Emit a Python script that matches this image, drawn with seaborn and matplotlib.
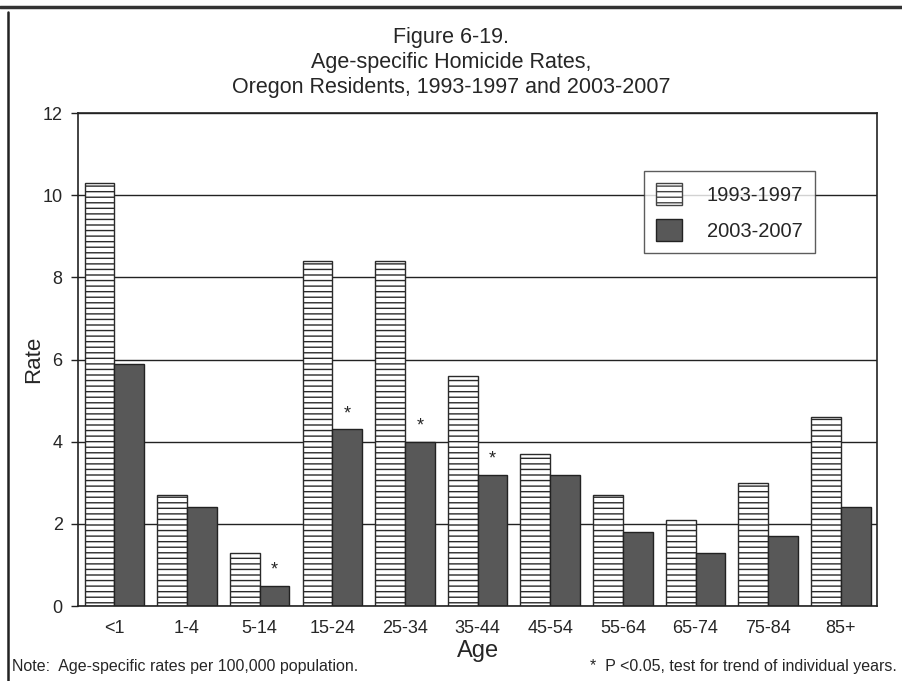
import numpy as np
import pandas as pd
import matplotlib
matplotlib.use("Agg")
import matplotlib.pyplot as plt
import seaborn as sns
from matplotlib.patches import Patch
from matplotlib.lines import Line2D

# --- Data ---
ages = ['<1', '1-4', '5-14', '15-24', '25-34', '35-44', '45-54',
        '55-64', '65-74', '75-84', '85+']
rate_1993_1997 = [10.3, 2.7, 1.3, 8.4, 8.4, 5.6, 3.7, 2.7, 2.1, 3.0, 4.6]
rate_2003_2007 = [5.9, 2.4, 0.5, 4.3, 4.0, 3.2, 3.2, 1.8, 1.3, 1.7, 2.4]
periods = ['1993-1997', '2003-2007']
significant = ['5-14', '15-24', '25-34', '35-44']

df = pd.DataFrame({
    'Age': ages * 2,
    'Rate': rate_1993_1997 + rate_2003_2007,
    'Period': [periods[0]] * len(ages) + [periods[1]] * len(ages),
})

# --- Style ---
sns.set_style('white')
plt.rcParams['font.family'] = ['Liberation Sans', 'DejaVu Sans']
plt.rcParams['hatch.color'] = '#8a8a8a'
plt.rcParams['hatch.linewidth'] = 1.0

fig = plt.figure(figsize=(9.03, 6.81), dpi=100)
ax = fig.add_axes([0.0864, 0.110, 0.885, 0.724])

sns.barplot(data=df, x='Age', y='Rate', hue='Period', order=ages,
            hue_order=periods, palette=['white', '#585858'],
            width=0.82, gap=0, saturation=1, ax=ax, legend=False, zorder=2)

# hatch the first period, dark edges on all bars
for bar in ax.containers[0]:
    bar.set_hatch('---')
    bar.set_edgecolor('#2a2a2a')
    bar.set_linewidth(1.0)
for bar in ax.containers[1]:
    bar.set_edgecolor('#222222')
    bar.set_linewidth(1.0)

# significance asterisks on the 2003-2007 bars
for bar, age, val in zip(ax.containers[1], ages, rate_2003_2007):
    if age in significant:
        ax.text(bar.get_x() + bar.get_width() / 2, val + 0.18, '*',
                ha='center', va='bottom', fontsize=13)

ax.set_ylim(0, 12)
ax.set_xlim(-0.5, len(ages) - 0.5)
ax.set_yticks(range(0, 13, 2))
ax.yaxis.grid(True, color='#222222', linewidth=1.0, zorder=0)
ax.set_axisbelow(True)
for s in ax.spines.values():
    s.set_color('#222222')
    s.set_linewidth(1.2)
ax.tick_params(axis='y', direction='out', length=5, width=1,
               color='#222222', labelsize=13, pad=6, left=True)
ax.tick_params(axis='x', length=0, labelsize=13, pad=10)
ax.set_xlabel('Age', fontsize=17, labelpad=2)
ax.set_ylabel('Rate', fontsize=16, labelpad=4)
ax.yaxis.set_label_coords(-0.043, 0.5)

handles = [Patch(facecolor='white', edgecolor='#444444', hatch='---', label=periods[0]),
           Patch(facecolor='#585858', edgecolor='#222222', label=periods[1])]
leg = ax.legend(handles=handles, loc='upper right', bbox_to_anchor=(0.922, 0.882),
                fontsize=14.5, frameon=True, fancybox=False, edgecolor='#333333',
                handlelength=1.3, handleheight=1.3, labelspacing=0.7,
                borderpad=0.6, handletextpad=1.2, borderaxespad=0)
leg.get_frame().set_linewidth(1.0)

# title
fig.text(0.5, 0.945, 'Figure 6-19.', ha='center', va='center', fontsize=15.5)
fig.text(0.5, 0.908, 'Age-specific Homicide Rates,', ha='center', va='center', fontsize=15.5)
fig.text(0.5, 0.871, 'Oregon Residents, 1993-1997 and 2003-2007', ha='center',
         va='center', fontsize=15.5)

# footnotes
fig.text(0.013, 0.021, 'Note:  Age-specific rates per 100,000 population.',
         ha='left', va='center', fontsize=11.5)
fig.text(0.993, 0.021, '*  P <0.05, test for trend of individual years.',
         ha='right', va='center', fontsize=11.5)

# page frame (top and left rules)
fig.add_artist(Line2D([0, 1], [0.989, 0.989], color='#333333', linewidth=2.5,
                      transform=fig.transFigure))
fig.add_artist(Line2D([0.009, 0.009], [0, 0.982], color='#222222', linewidth=1.8,
                      transform=fig.transFigure))

fig.savefig('out.png', dpi=100)
